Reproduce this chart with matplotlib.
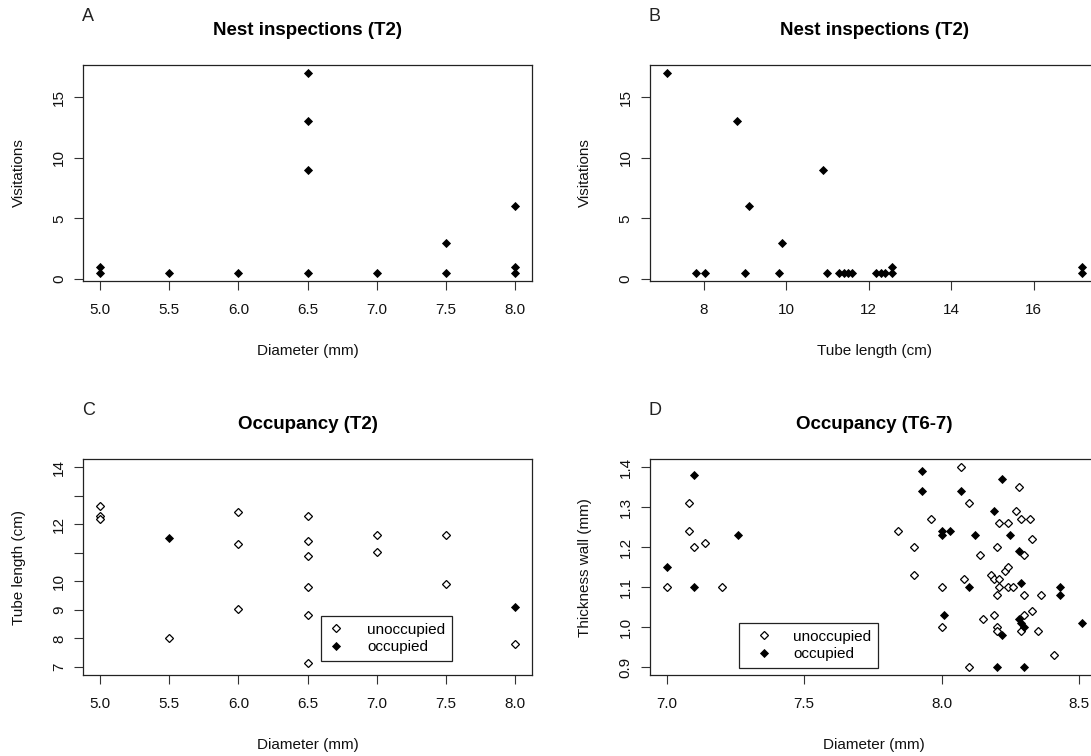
import numpy as np
import matplotlib
matplotlib.use('Agg')
import matplotlib.pyplot as plt
from matplotlib.lines import Line2D

plt.rcParams['font.family'] = ['Liberation Sans', 'DejaVu Sans']

## Data
# A: visitations by diameter
diam_A = [5.0, 5.0, 5.5, 6.0, 6.5, 6.5, 6.5, 6.5, 7.0, 7.5, 7.5, 8.0, 8.0, 8.0]
visits_A = [1, 0.5, 0.5, 0.5, 17, 13, 9, 0.5, 0.5, 3, 0.5, 6, 1, 0.5]

# B: visitations by tube length
tube_B = [7.10, 7.81, 8.02, 8.80, 8.99, 9.11, 9.82, 9.90, 10.89, 10.98,
          11.28, 11.40, 11.50, 11.59, 12.18, 12.29, 12.40, 12.56, 12.56,
          17.17, 17.17]
visits_B = [17, 0.5, 0.5, 13, 0.5, 6, 0.5, 3, 9, 0.5,
            0.5, 0.5, 0.5, 0.5, 0.5, 0.5, 0.5, 1, 0.5,
            1, 0.5]

# C: occupancy T2, diameter vs tube length
diam_C_unocc = [5.0, 5.0, 5.0, 5.5, 6.0, 6.0, 6.0, 6.5, 6.5, 6.5, 6.5, 6.5, 6.5,
                7.0, 7.0, 7.5, 7.5, 8.0]
tube_C_unocc = [12.63, 12.28, 12.20, 8.02, 12.42, 11.32, 9.04, 12.29, 11.41, 10.90,
                9.80, 8.83, 7.15, 11.62, 11.03, 11.62, 9.92, 7.82]
diam_C_occ = [5.5, 8.0]
tube_C_occ = [11.53, 9.12]

# D: occupancy T6-7, diameter vs wall thickness
diam_D_unocc = [7.00, 7.08, 7.08, 7.10, 7.14, 7.20,
                7.84, 7.90, 7.90, 7.96, 8.00, 8.00, 8.07, 8.08, 8.10, 8.10,
                8.14, 8.15, 8.18, 8.19, 8.19, 8.20, 8.20, 8.20, 8.20, 8.21,
                8.21, 8.21, 8.23, 8.24, 8.24, 8.24, 8.26, 8.27, 8.28, 8.29,
                8.30, 8.30, 8.30, 8.29, 8.32, 8.33, 8.33, 8.35, 8.36, 8.41]
wall_D_unocc = [1.10, 1.31, 1.24, 1.20, 1.21, 1.10,
                1.24, 1.20, 1.13, 1.27, 1.10, 1.00, 1.40, 1.12, 1.31, 0.90,
                1.18, 1.02, 1.13, 1.12, 1.03, 1.20, 1.08, 1.00, 0.99, 1.26,
                1.12, 1.10, 1.14, 1.15, 1.26, 1.10, 1.10, 1.29, 1.35, 1.27,
                1.18, 1.08, 1.03, 0.99, 1.27, 1.22, 1.04, 0.99, 1.08, 0.93]
diam_D_occ = [7.00, 7.10, 7.10, 7.26, 7.93, 7.93, 8.00, 8.00, 8.01, 8.03,
              8.07, 8.10, 8.12, 8.19, 8.20, 8.22, 8.22, 8.25, 8.28, 8.29,
              8.28, 8.29, 8.30, 8.30, 8.43, 8.43, 8.51]
wall_D_occ = [1.15, 1.38, 1.10, 1.23, 1.39, 1.34, 1.24, 1.23, 1.03, 1.24,
              1.34, 1.10, 1.23, 1.29, 0.90, 1.37, 0.98, 1.23, 1.19, 1.11,
              1.02, 1.01, 1.00, 0.90, 1.10, 1.08, 1.01]

W, H = 1091, 756
LBL = 11
TTL = 13.5
INK = '#111111'
MS = 4.3


def rlim(vals, lo=None, hi=None):
    # R style 4% padding
    a = min(vals) if lo is None else lo
    b = max(vals) if hi is None else hi
    r = b - a
    return a - 0.04 * r, b + 0.04 * r


def panel(x0, ytop, ybot, w=448.4):
    return fig.add_axes([x0 / W, 1 - ybot / H, w / W, (ybot - ytop) / H])


def style(ax, letter, title, xlabel, ylabel):
    for s in ax.spines.values():
        s.set_color('#222222')
        s.set_linewidth(0.9)
    ax.tick_params(direction='out', length=6.5, width=0.8, color='#333333',
                   labelsize=LBL, labelcolor=INK)
    ax.tick_params(axis='x', pad=9)
    ax.tick_params(axis='y', pad=6, labelrotation=90)
    for t in ax.get_yticklabels():
        t.set_va('center')
    ax.set_xlabel(xlabel, fontsize=LBL, color=INK, labelpad=20)
    ax.set_ylabel(ylabel, fontsize=LBL, color=INK, labelpad=19)
    ax.set_title(title, fontsize=TTL, fontweight='bold', pad=21.5)
    # panel letter sits above the title, flush with the box
    ax.annotate(letter, xy=(0, 1), xycoords='axes fraction', xytext=(-1, 35),
                textcoords='offset points', fontsize=13, color='#222222',
                ha='left', va='center')


def filled(ax, x, y):
    ax.plot(x, y, 'D', ms=MS, color='black', mec='black', mew=0.6, ls='none')


def hollow(ax, x, y):
    ax.plot(x, y, 'D', ms=MS, mfc='white', mec='black', mew=0.9, ls='none')


def rlegend(ax, px, py, hl, htp):
    h = [Line2D([], [], marker='D', ms=MS, mfc='white', mec='black', mew=0.9, ls='none'),
         Line2D([], [], marker='D', ms=MS, color='black', mew=0.6, ls='none')]
    leg = ax.legend(h, ['unoccupied', 'occupied'], loc='upper left',
                    bbox_to_anchor=(px / W, 1 - py / H), bbox_transform=fig.transFigure,
                    fontsize=LBL, frameon=True, fancybox=False, framealpha=1,
                    edgecolor='#222222', borderpad=0.45, handlelength=hl,
                    handletextpad=htp, labelspacing=0.25, borderaxespad=0)
    leg.get_frame().set_linewidth(0.9)


fig = plt.figure(figsize=(W / 100, H / 100), dpi=100)

# A
ax = panel(83.4, 65, 281)
filled(ax, diam_A, visits_A)
ax.set_xlim(rlim(diam_A))
ax.set_ylim(rlim(visits_A))
ax.set_xticks([5.0, 5.5, 6.0, 6.5, 7.0, 7.5, 8.0])
ax.set_xticklabels(['5.0', '5.5', '6.0', '6.5', '7.0', '7.5', '8.0'])
ax.set_yticks([0, 5, 10, 15])
style(ax, 'A', 'Nest inspections (T2)', 'Diameter (mm)', 'Visitations')

# B
ax = panel(650, 65, 281)
filled(ax, tube_B, visits_B)
ax.set_xlim(rlim(tube_B))
ax.set_ylim(rlim(visits_B))
ax.set_xticks([8, 10, 12, 14, 16])
ax.set_yticks([0, 5, 10, 15])
style(ax, 'B', 'Nest inspections (T2)', 'Tube length (cm)', 'Visitations')

# C
ax = panel(83.4, 459.3, 675)
hollow(ax, diam_C_unocc, tube_C_unocc)
filled(ax, diam_C_occ, tube_C_occ)
ax.set_xlim(rlim(diam_C_unocc + diam_C_occ))
ax.set_ylim(rlim([7, 14]))
ax.set_xticks([5.0, 5.5, 6.0, 6.5, 7.0, 7.5, 8.0])
ax.set_xticklabels(['5.0', '5.5', '6.0', '6.5', '7.0', '7.5', '8.0'])
ax.set_yticks(np.arange(7, 15))
ax.set_yticklabels(['7', '8', '9', '10', '', '12', '', '14'])
style(ax, 'C', 'Occupancy (T2)', 'Diameter (mm)', 'Tube length (cm)')
rlegend(ax, 320.5, 615.7, 1.15, 1.45)

# D
ax = panel(650, 459.3, 675)
hollow(ax, diam_D_unocc, wall_D_unocc)
filled(ax, diam_D_occ, wall_D_occ)
ax.set_xlim(rlim(diam_D_unocc + diam_D_occ))
ax.set_ylim(rlim(wall_D_unocc + wall_D_occ))
ax.set_xticks([7.0, 7.5, 8.0, 8.5])
ax.set_xticklabels(['7.0', '7.5', '8.0', '8.5'])
ax.set_yticks([0.9, 1.0, 1.1, 1.2, 1.3, 1.4])
ax.set_yticklabels(['0.9', '1.0', '1.1', '1.2', '1.3', '1.4'])
style(ax, 'D', 'Occupancy (T6-7)', 'Diameter (mm)', 'Thickness wall (mm)')
rlegend(ax, 738.7, 622.7, 2.4, 0.72)

fig.savefig('out.png', dpi=100)
